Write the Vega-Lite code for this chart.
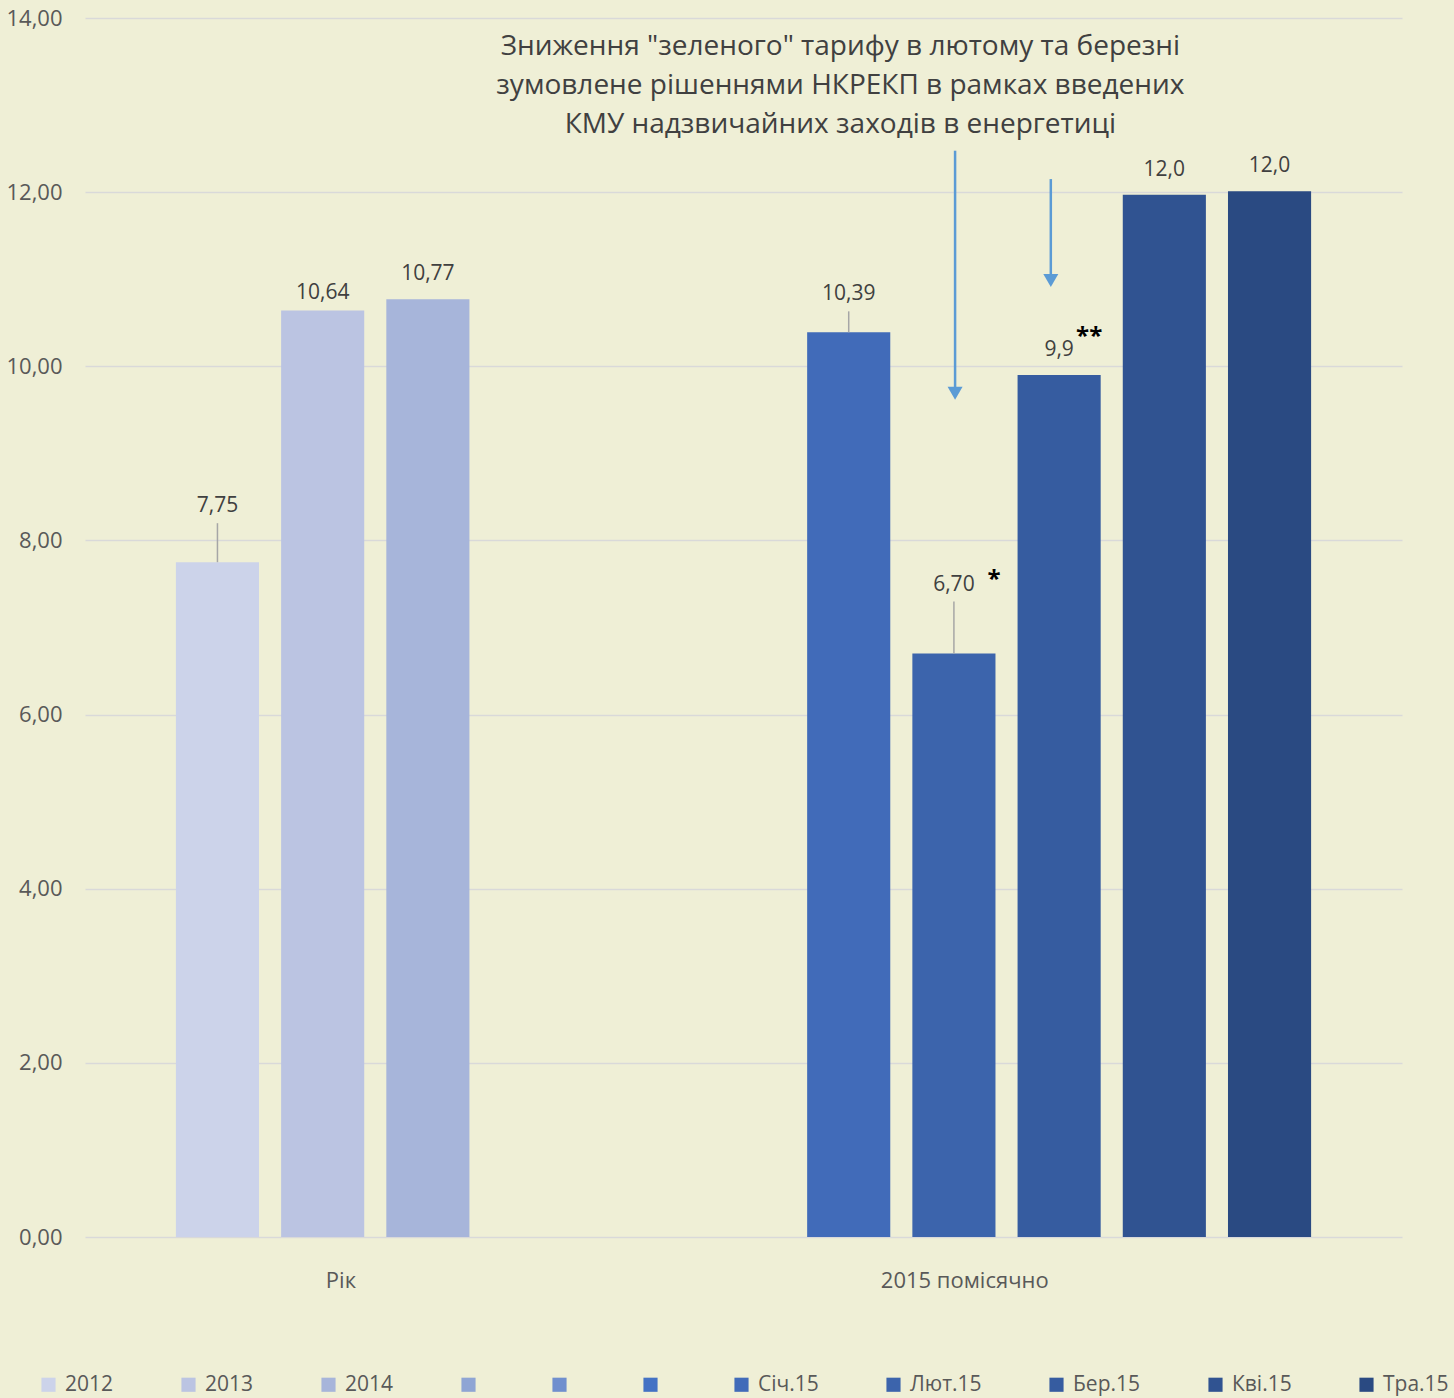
{
  "$schema": "https://vega.github.io/schema/vega-lite/v6.json",
  "width": 1317,
  "height": 1219,
  "autosize": {"type": "none"},
  "padding": {"left": 85, "top": 18, "right": 52, "bottom": 161},
  "background": "#EFEFD6",
  "config": {"view": {"stroke": null}, "font": "Open Sans"},
  "data": {"values": [
    {"series": "2012", "value": 7.75, "label": "7,75", "note": ""},
    {"series": "2013", "value": 10.64, "label": "10,64", "note": ""},
    {"series": "2014", "value": 10.77, "label": "10,77", "note": ""},
    {"series": "Січ.15", "value": 10.39, "label": "10,39", "note": ""},
    {"series": "Лют.15", "value": 6.70, "label": "6,70", "note": "*"},
    {"series": "Бер.15", "value": 9.9, "label": "9,9", "note": "**"},
    {"series": "Кві.15", "value": 11.97, "label": "12,0", "note": ""},
    {"series": "Тра.15", "value": 12.01, "label": "12,0", "note": ""}
  ]},
  "layer": [
    {
      "mark": {"type": "bar"},
      "encoding": {
        "x": {"field": "series", "type": "nominal",
              "scale": {"domain": ["2012", "2013", "2014", " ", "  ", "   ", "Січ.15", "Лют.15", "Бер.15", "Кві.15", "Тра.15"], "paddingInner": 0.21, "paddingOuter": 0.864},
              "axis": null},
        "y": {"field": "value", "type": "quantitative",
              "scale": {"domain": [0, 14], "nice": false},
              "axis": {"values": [0, 2, 4, 6, 8, 10, 12, 14], "labelExpr": "replace(format(datum.value, '.2f'), '.', ',')", "title": null, "domain": false, "ticks": false, "tickSize": 0, "labelPadding": 23, "grid": true, "gridColor": "#D9D9D9", "gridWidth": 1.5, "labelFontSize": 22, "labelColor": "#595959", "labelFont": "Open Sans"}},
        "color": {"field": "series", "type": "nominal",
                  "scale": {"domain": ["2012", "2013", "2014", " ", "  ", "   ", "Січ.15", "Лют.15", "Бер.15", "Кві.15", "Тра.15"],
                            "range": ["#CCD3EA", "#BBC4E2", "#A7B5DA", "#8FA5D4", "#708FCE", "#4472C4", "#416BB9", "#3C64AC", "#365CA0", "#305391", "#2A4A82"]},
                  "legend": {"title": null, "orient": "none", "legendX": -47, "legendY": 1356, "direction": "horizontal", "columns": 11, "symbolType": "square", "symbolSize": 200, "symbolStrokeWidth": 0, "symbolOpacity": 1, "labelFontSize": 21, "labelColor": "#595959", "labelFont": "Open Sans", "labelOffset": 6, "columnPadding": 64, "padding": 0, "labelExpr": "trim(datum.label)"}}
      }
    },
    {
      "transform": [{"filter": {"field": "series", "oneOf": ["2014", "Бер.15", "Кві.15", "Тра.15"]}}],
      "mark": {"type": "text", "dy": -25, "fontSize": 21, "color": "#404040", "baseline": "middle"},
      "encoding": {"x": {"field": "series", "type": "nominal"}, "y": {"field": "value", "type": "quantitative"}, "text": {"field": "label"}}
    },
    {
      "transform": [{"filter": {"field": "series", "equal": "2013"}}],
      "mark": {"type": "text", "dy": -18, "fontSize": 21, "color": "#404040", "baseline": "middle"},
      "encoding": {"x": {"field": "series", "type": "nominal"}, "y": {"field": "value", "type": "quantitative"}, "text": {"field": "label"}}
    },
    {
      "transform": [{"filter": {"field": "series", "equal": "2012"}}],
      "mark": {"type": "text", "dy": -56, "fontSize": 21, "color": "#404040", "baseline": "middle"},
      "encoding": {"x": {"field": "series", "type": "nominal"}, "y": {"field": "value", "type": "quantitative"}, "text": {"field": "label"}}
    },
    {
      "transform": [{"filter": {"field": "series", "equal": "Січ.15"}}],
      "mark": {"type": "text", "dy": -38, "fontSize": 21, "color": "#404040", "baseline": "middle"},
      "encoding": {"x": {"field": "series", "type": "nominal"}, "y": {"field": "value", "type": "quantitative"}, "text": {"field": "label"}}
    },
    {
      "transform": [{"filter": {"field": "series", "equal": "Лют.15"}}],
      "mark": {"type": "text", "dy": -69, "fontSize": 21, "color": "#404040", "baseline": "middle"},
      "encoding": {"x": {"field": "series", "type": "nominal"}, "y": {"field": "value", "type": "quantitative"}, "text": {"field": "label"}}
    },
    {
      "transform": [{"filter": {"field": "series", "equal": "2012"}}],
      "mark": {"type": "rule", "color": "#A6A6A6", "strokeWidth": 1.5, "y2Offset": -39},
      "encoding": {"x": {"field": "series", "type": "nominal"}, "y": {"field": "value", "type": "quantitative"}, "y2": {"field": "value"}}
    },
    {
      "transform": [{"filter": {"field": "series", "equal": "Січ.15"}}],
      "mark": {"type": "rule", "color": "#A6A6A6", "strokeWidth": 1.5, "y2Offset": -21},
      "encoding": {"x": {"field": "series", "type": "nominal"}, "y": {"field": "value", "type": "quantitative"}, "y2": {"field": "value"}}
    },
    {
      "transform": [{"filter": {"field": "series", "equal": "Лют.15"}}],
      "mark": {"type": "rule", "color": "#A6A6A6", "strokeWidth": 1.5, "y2Offset": -52},
      "encoding": {"x": {"field": "series", "type": "nominal"}, "y": {"field": "value", "type": "quantitative"}, "y2": {"field": "value"}}
    },
    {
      "transform": [{"filter": {"field": "series", "equal": "Лют.15"}}],
      "mark": {"type": "text", "dx": 40, "dy": -74, "fontSize": 24, "fontWeight": "bold", "color": "#000000", "baseline": "middle"},
      "encoding": {"x": {"field": "series", "type": "nominal"}, "y": {"field": "value", "type": "quantitative"}, "text": {"field": "note"}}
    },
    {
      "transform": [{"filter": {"field": "series", "equal": "Бер.15"}}],
      "mark": {"type": "text", "dx": 30, "dy": -38, "fontSize": 24, "fontWeight": "bold", "color": "#000000", "baseline": "middle"},
      "encoding": {"x": {"field": "series", "type": "nominal"}, "y": {"field": "value", "type": "quantitative"}, "text": {"field": "note"}}
    },
    {
      "data": {"values": [{}]},
      "mark": {"type": "text", "text": ["Зниження \"зеленого\" тарифу  в лютому та березні", "зумовлене  рішеннями НКРЕКП в рамках введених", "КМУ надзвичайних заходів в енергетиці"], "font": "Open Sans", "fontSize": 28, "lineHeight": 39, "color": "#404040", "align": "center", "baseline": "middle"},
      "encoding": {"x": {"datum": "Січ.15", "bandPosition": 0.4}, "y": {"datum": 13.67}}
    },
    {
      "data": {"values": [{}]},
      "mark": {"type": "text", "text": "Рік", "font": "Open Sans", "fontSize": 22, "color": "#595959", "align": "center", "baseline": "middle"},
      "encoding": {"x": {"datum": "2013", "bandPosition": 0.72}, "y": {"datum": -0.5}}
    },
    {
      "data": {"values": [{}]},
      "mark": {"type": "text", "text": "2015 помісячно", "font": "Open Sans", "fontSize": 22, "color": "#595959", "align": "center", "baseline": "middle"},
      "encoding": {"x": {"datum": "Лют.15", "bandPosition": 0.63}, "y": {"datum": -0.5}}
    },
    {
      "data": {"values": [{}]},
      "mark": {"type": "rule", "color": "#5B9BD5", "strokeWidth": 2.5},
      "encoding": {"x": {"datum": "Лют.15", "bandPosition": 0.514}, "y": {"datum": 12.476}, "y2": {"datum": 9.75}}
    },
    {
      "data": {"values": [{}]},
      "mark": {"type": "point", "shape": "triangle-down", "filled": true, "color": "#5B9BD5", "size": 225, "opacity": 1, "strokeWidth": 0},
      "encoding": {"x": {"datum": "Лют.15", "bandPosition": 0.514}, "y": {"datum": 9.69}}
    },
    {
      "data": {"values": [{}]},
      "mark": {"type": "rule", "color": "#5B9BD5", "strokeWidth": 2.5},
      "encoding": {"x": {"datum": "Бер.15", "bandPosition": 0.40}, "y": {"datum": 12.15}, "y2": {"datum": 11.05}}
    },
    {
      "data": {"values": [{}]},
      "mark": {"type": "point", "shape": "triangle-down", "filled": true, "color": "#5B9BD5", "size": 225, "opacity": 1, "strokeWidth": 0},
      "encoding": {"x": {"datum": "Бер.15", "bandPosition": 0.40}, "y": {"datum": 10.985}}
    }
  ]
}
